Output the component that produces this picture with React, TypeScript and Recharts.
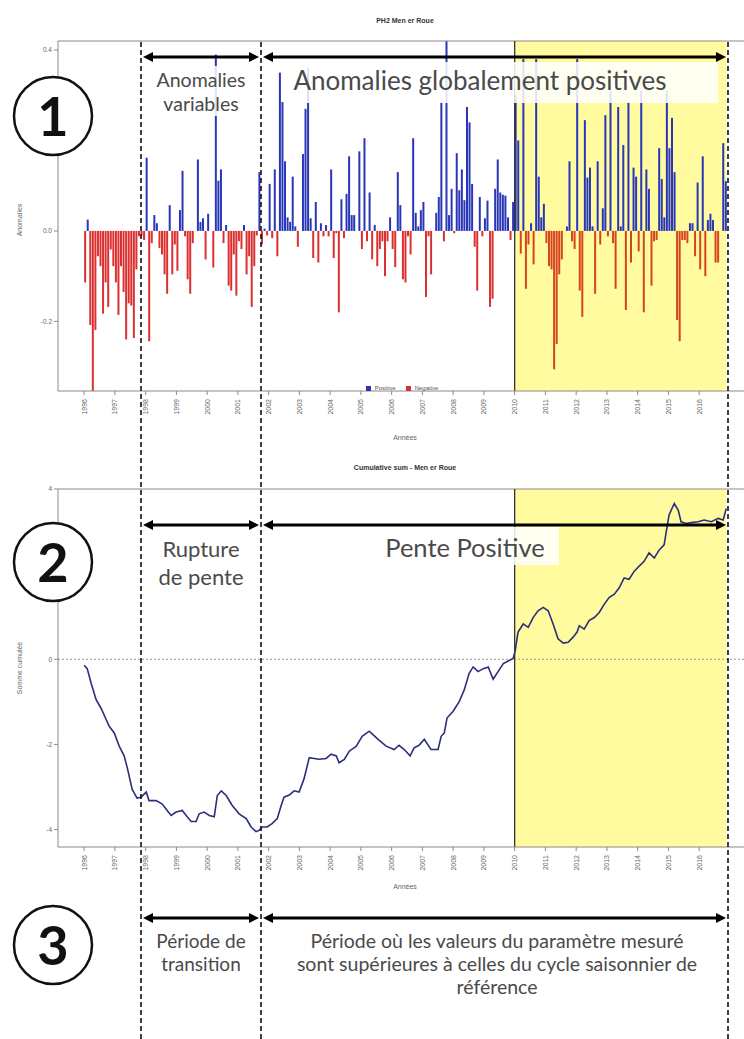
import React from "react";
import {
  ComposedChart,
  Bar,
  Line,
  Cell,
  XAxis,
  YAxis,
  Legend,
  ReferenceArea,
  ReferenceLine,
} from "recharts";

const startYear = 1996;
const yearTicks = [
  1996, 1997, 1998, 1999, 2000, 2001, 2002, 2003, 2004, 2005, 2006, 2007, 2008,
  2009, 2010, 2011, 2012, 2013, 2014, 2015, 2016,
];
// 0.2 and 2 are hidden behind the numbered circles in the reference
const anomalyTicks = [-0.2, 0, 0.4];
const cumulTicks = [-4, -2, 0, 4];

// monthly anomalies, Jan 1996 -> Nov 2016
const anomalies = [
  -0.114, 0.025, -0.208, -0.36, -0.219, -0.056, -0.078, -0.183, -0.114, -0.168, -0.041, -0.078, // 1996
  -0.114, -0.186, -0.078, -0.135, -0.24, -0.16, -0.165, -0.237, -0.085, -0.012, -0.01, -0.02, // 1997
  0.162, -0.244, -0.027, 0.035, 0.017, -0.038, -0.052, -0.096, -0.139, 0.057, -0.096, -0.03, // 1998
  -0.088, 0.046, 0.133, -0.012, -0.107, -0.139, -0.027, 0, 0.158, 0.02, 0.028, -0.063, // 1999
  0.038, 0, -0.081, 0.39, 0.111, 0.136, -0.027, 0.013, -0.121, -0.132, -0.052, -0.143, // 2000
  -0.023, -0.04, 0.013, -0.096, -0.056, -0.168, -0.078, -0.01, 0.13, -0.03, 0.005, -0.01, // 2001
  0.104, -0.016, 0.136, -0.056, 0.35, 0.285, 0.154, 0.03, 0.02, 0.12, 0.01, -0.035, // 2002
  0, 0.17, 0.27, 0.36, 0.028, -0.06, 0.064, -0.07, 0.017, -0.012, 0.013, -0.012, // 2003
  0.136, -0.06, -0.005, -0.18, 0.07, -0.016, 0.082, 0.165, 0.035, 0.035, 0, 0.176, // 2004
  -0.04, 0.205, -0.023, 0.085, -0.063, 0.013, -0.078, -0.04, -0.023, -0.1, -0.023, 0.03, // 2005
  -0.04, -0.08, 0.13, 0.057, -0.107, -0.114, -0.012, -0.052, 0.205, 0.04, 0.01, 0.046, // 2006
  0.064, -0.146, -0.012, -0.096, 0, 0.04, 0.075, 0.285, -0.023, 0.42, 0.035, 0.093, // 2007
  -0.005, 0.172, 0.09, 0.136, 0.068, 0.274, 0.24, 0.104, -0.035, -0.132, 0.075, -0.012, // 2008
  0.028, 0.067, -0.168, -0.15, 0.093, 0.158, 0.085, 0.08, 0.078, 0.03, -0.02, 0.064, // 2009
  0.3, 0.2, -0.05, 0.38, -0.128, -0.03, 0.017, -0.074, 0.38, 0.12, 0.03, 0.06, // 2010
  -0.027, -0.078, -0.085, -0.306, -0.25, -0.096, -0.063, 0, 0.01, 0.154, -0.023, -0.04, // 2011
  0.38, -0.132, -0.19, 0.245, 0.118, 0.14, 0.01, -0.139, 0.154, -0.03, 0.05, 0.256, // 2012
  -0.012, 0.31, -0.027, -0.128, 0.274, 0.01, 0.19, -0.175, 0.285, -0.07, 0.14, 0.12, // 2013
  -0.045, 0.31, -0.18, 0.136, 0.093, -0.121, -0.023, -0.02, 0.183, 0.115, 0.03, 0.31, // 2014
  0.183, 0.25, 0.13, -0.197, -0.244, -0.02, -0.02, -0.027, 0.017, 0.017, -0.056, 0.107, // 2015
  -0.085, 0.165, -0.1, 0.024, 0.038, 0.024, -0.07, -0.07, 0, 0.194, 0.11, // 2016
];

// cumulative sum: [decimal year, value]
const cumulativeSum: [number, number][] = [
  [1996.0, -0.14], [1996.1, -0.22], [1996.23, -0.57], [1996.39, -0.95], [1996.55, -1.15],
  [1996.72, -1.42], [1996.81, -1.57], [1996.98, -1.73], [1997.14, -2.04], [1997.3, -2.27],
  [1997.4, -2.54], [1997.56, -3.05], [1997.72, -3.26], [1997.85, -3.24], [1998.02, -3.12],
  [1998.11, -3.32], [1998.34, -3.32], [1998.54, -3.4], [1998.7, -3.55], [1998.83, -3.67],
  [1998.99, -3.59], [1999.19, -3.55], [1999.32, -3.67], [1999.48, -3.81], [1999.64, -3.81],
  [1999.74, -3.63], [1999.9, -3.59], [2000.07, -3.67], [2000.23, -3.7], [2000.33, -3.2],
  [2000.46, -3.09], [2000.62, -3.2], [2000.81, -3.43], [2001.04, -3.63], [2001.27, -3.74],
  [2001.43, -3.94], [2001.59, -4.05], [2001.69, -4.02], [2001.79, -3.94], [2001.95, -3.94],
  [2002.11, -3.86], [2002.28, -3.74], [2002.41, -3.43], [2002.5, -3.24], [2002.67, -3.19],
  [2002.83, -3.09], [2002.99, -3.12], [2003.15, -2.81], [2003.32, -2.31], [2003.48, -2.33],
  [2003.64, -2.35], [2003.87, -2.33], [2004.03, -2.23], [2004.2, -2.27], [2004.29, -2.43],
  [2004.46, -2.35], [2004.62, -2.16], [2004.85, -2.04], [2005.04, -1.81], [2005.27, -1.69],
  [2005.33, -1.73], [2005.56, -1.88], [2005.82, -2.04], [2006.08, -2.12], [2006.24, -2.02],
  [2006.41, -2.12], [2006.6, -2.27], [2006.73, -2.08], [2006.89, -2.02], [2007.06, -1.88],
  [2007.28, -2.12], [2007.51, -2.12], [2007.61, -1.81], [2007.71, -1.73], [2007.8, -1.38],
  [2008.0, -1.22], [2008.2, -0.99], [2008.36, -0.72], [2008.52, -0.33], [2008.65, -0.18],
  [2008.81, -0.29], [2008.98, -0.22], [2009.14, -0.18], [2009.3, -0.47], [2009.46, -0.29],
  [2009.63, -0.1], [2009.79, -0.04], [2009.95, 0.02], [2010.02, 0.21], [2010.05, 0.36],
  [2010.11, 0.64], [2010.28, 0.83], [2010.44, 0.75], [2010.6, 0.98], [2010.76, 1.14],
  [2010.93, 1.22], [2011.09, 1.14], [2011.25, 0.83], [2011.41, 0.48], [2011.58, 0.38],
  [2011.74, 0.4], [2011.9, 0.52], [2012.03, 0.64], [2012.1, 0.79], [2012.26, 0.71],
  [2012.42, 0.91], [2012.59, 0.98], [2012.75, 1.1], [2012.91, 1.29], [2013.07, 1.45],
  [2013.24, 1.53], [2013.4, 1.68], [2013.56, 1.91], [2013.72, 1.88], [2013.89, 2.07],
  [2014.05, 2.19], [2014.21, 2.3], [2014.37, 2.5], [2014.54, 2.38], [2014.7, 2.57],
  [2014.86, 2.69], [2014.93, 3.0], [2015.02, 3.39], [2015.19, 3.66], [2015.32, 3.5],
  [2015.41, 3.23], [2015.58, 3.19], [2015.74, 3.21], [2015.97, 3.23], [2016.16, 3.27],
  [2016.39, 3.23], [2016.62, 3.31], [2016.78, 3.27], [2016.88, 3.54],
];

const X_DOMAIN: [number, number] = [1995.15, 2017.75];
const YELLOW_START = 2010;
const YELLOW_END = 2016.88;
const YELLOW = "#fffb9e";
const BLUE = "#2936b8";
const RED = "#dc2f2f";
const RED_IN_YELLOW = "#d8431f";
const AXIS = "#8a8a8a";
const TEXT = "#4a4a4a";

const anomalyRows = anomalies.map((v, i) => ({
  t: startYear + (i + 0.5) / 12,
  pos: v > 0 ? v : 0,
  neg: v < 0 ? v : 0,
}));

const cumRows = cumulativeSum.map(([t, v]) => ({ t, v }));

function YearTick(props: any) {
  const { x, y, payload } = props;
  const yy = y + 2;
  return (
    <text
      x={x}
      y={yy}
      transform={`rotate(-90 ${x} ${yy})`}
      textAnchor="end"
      dy="0.35em"
      fontSize={7}
      fill="#666"
      fontFamily="Liberation Sans, Arial, sans-serif"
    >
      {payload.value}
    </text>
  );
}

function DoubleArrow({ x1, x2, y }: { x1: number; x2: number; y: number }) {
  const h = 10;
  const w = 5;
  return (
    <g>
      <line x1={x1 + h - 1} y1={y} x2={x2 - h + 1} y2={y} stroke="#000" strokeWidth={3} />
      <polygon points={`${x1},${y} ${x1 + h},${y - w} ${x1 + h},${y + w}`} fill="#000" />
      <polygon points={`${x2},${y} ${x2 - h},${y - w} ${x2 - h},${y + w}`} fill="#000" />
    </g>
  );
}

function Badge({ cx, cy, label }: { cx: number; cy: number; label: string }) {
  return (
    <g>
      <circle cx={cx} cy={cy} r={39} fill="#fff" stroke="#111" strokeWidth={2.5} />
      <text
        x={cx}
        y={cy + 20}
        textAnchor="middle"
        fontSize={54}
        fontWeight={700}
        fontFamily="Lato, sans-serif"
        fill="#111"
      >
        {label}
      </text>
    </g>
  );
}

const annoFont = "Lato, 'Open Sans', sans-serif";

export default function App() {
  const small = { fontSize: 6.5, fill: "#666", fontFamily: "Liberation Sans, Arial, sans-serif" };

  return (
    <div
      style={{
        position: "absolute",
        left: 0,
        top: 0,
        width: 744,
        height: 1039,
        overflow: "hidden",
        background: "#fff",
      }}
    >
      {/* 1 - anomalies */}
      <div style={{ position: "absolute", left: 0, top: 0 }}>
        <ComposedChart
          width={770}
          height={450}
          data={anomalyRows}
          stackOffset="sign"
          margin={{ top: 41, right: 17, bottom: 12, left: 28 }}
        >
          <ReferenceArea
            x1={YELLOW_START}
            x2={YELLOW_END}
            y1={-0.354}
            y2={0.42}
            fill={YELLOW}
            fillOpacity={1}
            stroke="none"
          />
          <XAxis
            type="number"
            dataKey="t"
            domain={X_DOMAIN}
            ticks={yearTicks}
            interval={0}
            allowDataOverflow
            tickSize={4}
            stroke={AXIS}
            tick={<YearTick />}
            height={40}
          />
          <YAxis
            domain={[-0.354, 0.42]}
            ticks={anomalyTicks}
            allowDataOverflow
            width={30}
            tickSize={4}
            stroke={AXIS}
            tick={small}
            tickFormatter={(v: number) => v.toFixed(1)}
          />
          <ReferenceLine y={0.42} stroke={AXIS} />
          <Bar dataKey="pos" stackId="a" barSize={2} fill={BLUE} name="Positive" isAnimationActive={false} />
          <Bar dataKey="neg" stackId="a" barSize={2} fill={RED} name="Negative" isAnimationActive={false}>
            {anomalyRows.map((r, i) => (
              <Cell key={i} fill={r.t >= YELLOW_START ? RED_IN_YELLOW : RED} />
            ))}
          </Bar>
          <ReferenceLine x={YELLOW_START} stroke="#333" strokeWidth={1.3} />
          <Legend
            iconType="square"
            iconSize={5}
            itemSorter={(item: any) => (item.value === "Positive" ? 0 : 1)}
            wrapperStyle={{
              position: "absolute",
              left: 352,
              top: 385,
              width: 110,
              fontSize: 6,
              lineHeight: "7px",
              fontFamily: "Liberation Sans, Arial, sans-serif",
            }}
            formatter={(value: string) => <span style={{ color: "#555" }}>{value}</span>}
          />
        </ComposedChart>
      </div>

      {/* 2 - cumulative sum */}
      <div style={{ position: "absolute", left: 0, top: 440 }}>
        <ComposedChart
          width={770}
          height={450}
          data={cumRows}
          margin={{ top: 49, right: 17, bottom: 3, left: 28 }}
        >
          <ReferenceArea
            x1={YELLOW_START}
            x2={YELLOW_END}
            y1={-4.41}
            y2={4}
            fill={YELLOW}
            fillOpacity={1}
            stroke="none"
          />
          <XAxis
            type="number"
            dataKey="t"
            domain={X_DOMAIN}
            ticks={yearTicks}
            interval={0}
            allowDataOverflow
            tickSize={4}
            stroke={AXIS}
            tick={<YearTick />}
            height={40}
          />
          <YAxis
            domain={[-4.41, 4]}
            ticks={cumulTicks}
            allowDataOverflow
            width={30}
            tickSize={4}
            stroke={AXIS}
            tick={small}
          />
          <ReferenceLine y={4} stroke={AXIS} />
          <ReferenceLine y={0} stroke="#999" strokeDasharray="2 2" />
          <ReferenceLine x={YELLOW_START} stroke="#333" strokeWidth={1.3} />
          <Line
            type="linear"
            dataKey="v"
            stroke="#2b2f7a"
            strokeWidth={1.6}
            dot={false}
            isAnimationActive={false}
          />
        </ComposedChart>
      </div>

      {/* annotations */}
      <svg
        width={744}
        height={1039}
        style={{ position: "absolute", left: 0, top: 0, pointerEvents: "none" }}
      >
        <g fontFamily="Liberation Sans, Arial, sans-serif" fill="#333">
          <text x={405} y={23} fontSize={7} fontWeight={700} textAnchor="middle">PH2 Men er Roue</text>
          <text x={405} y={470} fontSize={7} fontWeight={700} textAnchor="middle">Cumulative sum - Men er Roue</text>
          <text x={405} y={440} fontSize={7} textAnchor="middle" fill="#666">Années</text>
          <text x={405} y={889} fontSize={7} textAnchor="middle" fill="#666">Années</text>
          <text x={22} y={220} fontSize={7} textAnchor="middle" fill="#666" transform="rotate(-90 22 220)">Anomalies</text>
          <text x={22} y={668} fontSize={7} textAnchor="middle" fill="#666" transform="rotate(-90 22 668)">Somme cumulée</text>
        </g>

        {[141, 261, 728].map((x) => (
          <line key={x} x1={x} y1={42} x2={x} y2={1039} stroke="#111" strokeWidth={1.6} strokeDasharray="5 3" />
        ))}

        {/* text boxes */}
        <rect x={150} y={66} width={102} height={50} fill="#fff" fillOpacity={0.85} />
        <rect x={284} y={62} width={434} height={41} fill="#fff" fillOpacity={0.85} />
        <rect x={376} y={527} width={183} height={38} fill="#fff" fillOpacity={0.85} />

        <g fontFamily={annoFont} fill={TEXT} textAnchor="middle">
          <text x={201} y={87} fontSize={19.5}>Anomalies</text>
          <text x={201} y={111} fontSize={19.5}>variables</text>
          <text x={480} y={90} fontSize={26}>Anomalies globalement positives</text>
          <text x={201} y={557} fontSize={22}>Rupture</text>
          <text x={201} y={585} fontSize={22}>de pente</text>
          <text x={465} y={557} fontSize={25.5}>Pente Positive</text>
          <text x={201} y={948} fontSize={19}>Période de</text>
          <text x={201} y={971} fontSize={19}>transition</text>
          <text x={497} y={948} fontSize={19.5}>Période où les valeurs du paramètre mesuré</text>
          <text x={497} y={971} fontSize={19.5}>sont supérieures à celles du cycle saisonnier de</text>
          <text x={497} y={994} fontSize={19.5}>référence</text>
        </g>

        <DoubleArrow x1={143} x2={259} y={57} />
        <DoubleArrow x1={263} x2={726} y={57} />
        <DoubleArrow x1={143} x2={259} y={525} />
        <DoubleArrow x1={263} x2={726} y={525} />
        <DoubleArrow x1={143} x2={259} y={918} />
        <DoubleArrow x1={263} x2={726} y={918} />

        <Badge cx={53} cy={116} label="1" />
        <Badge cx={53} cy={562} label="2" />
        <Badge cx={53} cy={945} label="3" />
      </svg>
    </div>
  );
}
